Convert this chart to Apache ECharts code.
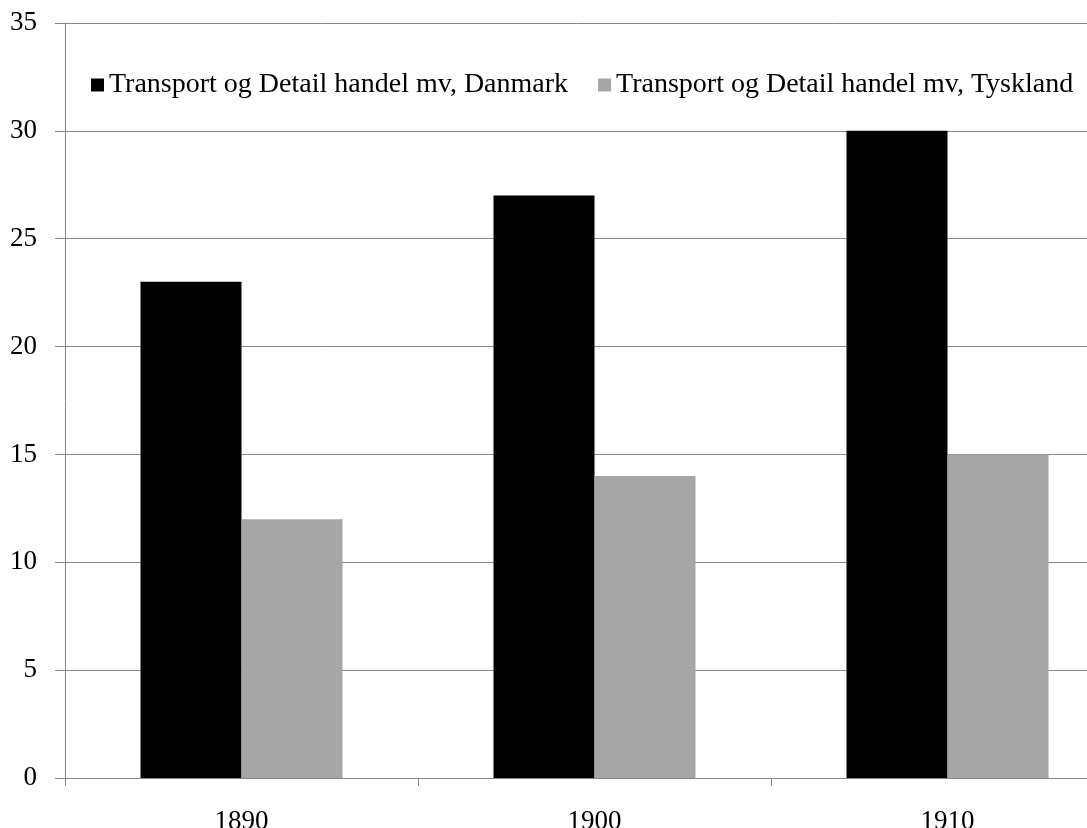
<!DOCTYPE html>
<html>
<head>
<meta charset="utf-8">
<script src="https://cdn.jsdelivr.net/npm/echarts@6/dist/echarts.min.js"></script>
<style>html,body{margin:0;padding:0;background:#fff}#c{width:1087px;height:828px}</style>
</head>
<body>
<div id="c"></div>
<script>
const categories = ['1890', '1900', '1910'];
const danmark = [23, 27, 30];
const tyskland = [12, 14, 15];
const seriesNames = ['Transport og Detail handel mv, Danmark', 'Transport og Detail handel mv, Tyskland'];

const font = 'Liberation Serif';
const chart = echarts.init(document.getElementById('c'), null, {renderer: 'canvas'});
chart.setOption({
  animation: false,
  backgroundColor: '#fff',
  legend: {
    left: 86, top: 66,
    icon: 'rect', itemWidth: 13, itemHeight: 13, itemGap: 30,
    textStyle: {fontFamily: font, fontSize: 28, color: '#000'},
    data: seriesNames
  },
  grid: {left: 65, top: 23, width: 1059, height: 755, containLabel: false, outerBoundsMode: 'none'},
  xAxis: {
    type: 'category', data: categories,
    axisLine: {lineStyle: {color: '#888', width: 1}},
    axisTick: {show: true, length: 8, lineStyle: {color: '#888'}},
    axisLabel: {fontFamily: font, fontSize: 27, color: '#000', margin: 30}
  },
  yAxis: {
    type: 'value', min: 0, max: 35, interval: 5,
    axisLine: {show: true, lineStyle: {color: '#888', width: 1}},
    axisTick: {show: true, length: 10, lineStyle: {color: '#888'}},
    splitLine: {lineStyle: {color: '#888', width: 1}},
    axisLabel: {fontFamily: font, fontSize: 27, color: '#000', margin: 28}
  },
  series: [
    {name: seriesNames[0], type: 'bar', data: danmark, barWidth: 101, barGap: '0%', itemStyle: {color: '#000'}},
    {name: seriesNames[1], type: 'bar', data: tyskland, barWidth: 101, barGap: '0%', itemStyle: {color: '#a6a6a6'}}
  ]
});
</script>
</body>
</html>
